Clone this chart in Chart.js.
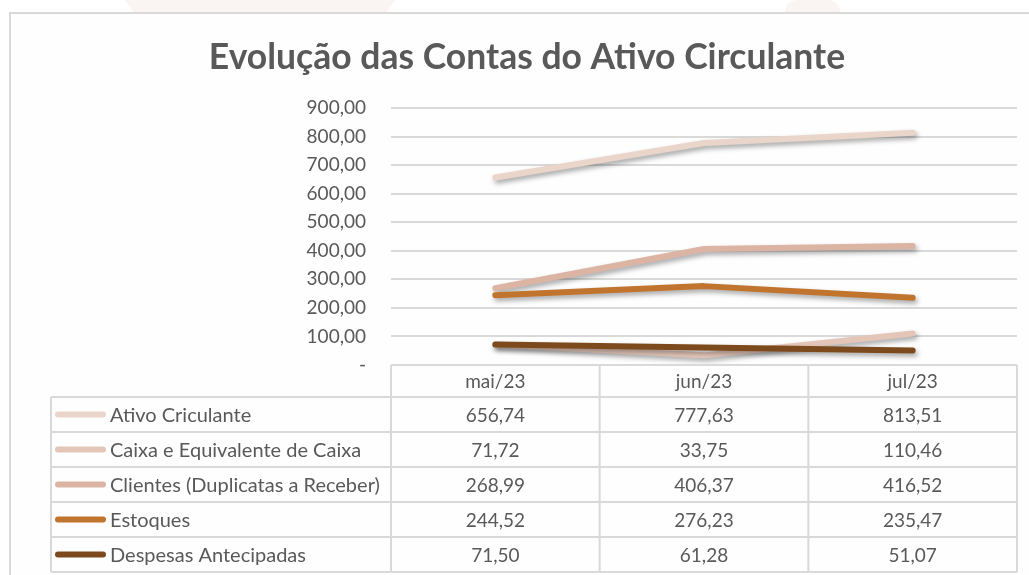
<!DOCTYPE html>
<html>
<head>
<meta charset="utf-8">
<script src="https://cdn.jsdelivr.net/npm/chart.js@4.4.1/dist/chart.umd.min.js"></script>
<style>
  html, body { margin: 0; padding: 0; background: #fff; }
  #wrap { position: relative; width: 1029px; height: 575px; overflow: hidden; }
  .mark { position: absolute; background: #faf5f2; }
  #frame { position: absolute; left: 9px; top: 12px; width: 1040px; height: 700px;
    border: 2px solid #d9d9d9; background: #fefefe; box-sizing: border-box; }
  canvas { position: absolute; left: 0; top: 0; }
</style>
</head>
<body>
<div id="wrap">
  <div class="mark" style="left:125px;top:0;width:270px;height:12px;clip-path:polygon(0 0,100% 0,97% 100%,3% 100%);"></div>
  <div class="mark" style="left:785px;top:0;width:55px;height:12px;border-radius:30px 30px 0 0;"></div>
  <div id="frame"></div>
  <canvas id="chart" width="1029" height="575"></canvas>
</div>
<script>
(function () {
  const title = "Evolução das Contas do Ativo Circulante";
  const months = ["mai/23", "jun/23", "jul/23"];
  const seriesNames = [
    "Ativo Criculante",
    "Caixa e Equivalente de Caixa",
    "Clientes (Duplicatas a Receber)",
    "Estoques",
    "Despesas Antecipadas",
  ];
  const ativo = [656.74, 777.63, 813.51];
  const caixa = [71.72, 33.75, 110.46];
  const clientes = [268.99, 406.37, 416.52];
  const estoques = [244.52, 276.23, 235.47];
  const despesas = [71.5, 61.28, 51.07];
  const colors = ["#e9d5ca", "#e4c6b9", "#dcb4a4", "#c0742e", "#7d4a1d"];

  const values = [ativo, caixa, clientes, estoques, despesas];
  const fmt = (v) => v.toFixed(2).replace(".", ",");
  const textColor = "#595959";
  const gridColor = "#d9d9d9";
  const font = "Lato";

  const shadow = {
    id: "shadow",
    beforeDatasetsDraw(chart) {
      const ctx = chart.ctx;
      ctx.save();
      ctx.shadowColor = "rgba(0,0,0,0.35)";
      ctx.shadowBlur = 5;
      ctx.shadowOffsetX = 2;
      ctx.shadowOffsetY = 3;
    },
    afterDatasetsDraw(chart) {
      chart.ctx.restore();
    },
  };

  // title centred on the frame, not on the canvas
  const frameTitle = {
    id: "frameTitle",
    afterDraw(chart) {
      const ctx = chart.ctx;
      ctx.save();
      ctx.fillStyle = textColor;
      ctx.font = "bold 35.5px " + font;
      ctx.textAlign = "center";
      ctx.textBaseline = "middle";
      ctx.fillText(title, 527, 58);
      ctx.restore();
    },
  };

  // data table under the plot, aligned to the category scale
  const dataTable = {
    id: "dataTable",
    afterDraw(chart) {
      const ctx = chart.ctx;
      const ca = chart.chartArea;
      const xs = chart.scales.x;
      const colW = (ca.right - ca.left) / months.length;
      const headTop = ca.bottom;
      const headH = 32;
      const rowH = 35;
      const leftX = 51;
      const bodyTop = headTop + headH;
      const bottom = bodyTop + rowH * seriesNames.length;

      ctx.save();
      ctx.strokeStyle = gridColor;
      ctx.lineWidth = 2;
      ctx.beginPath();
      ctx.moveTo(ca.left, headTop);
      ctx.lineTo(ca.right, headTop);
      for (let i = 0; i <= months.length; i++) {
        const x = ca.left + colW * i;
        ctx.moveTo(x, headTop);
        ctx.lineTo(x, bottom);
      }
      for (let r = 0; r <= seriesNames.length; r++) {
        const y = bodyTop + rowH * r;
        ctx.moveTo(leftX, y);
        ctx.lineTo(ca.right, y);
      }
      ctx.moveTo(leftX, bodyTop);
      ctx.lineTo(leftX, bottom);
      ctx.stroke();

      ctx.fillStyle = textColor;
      ctx.font = "19px " + font;
      ctx.textBaseline = "middle";
      ctx.textAlign = "center";
      months.forEach((m, i) => {
        ctx.fillText(m, xs.getPixelForValue(i), headTop + headH / 2 + 1);
      });

      seriesNames.forEach((name, r) => {
        const cy = bodyTop + rowH * r + rowH / 2;
        ctx.strokeStyle = colors[r];
        ctx.lineWidth = 6;
        ctx.lineCap = "round";
        ctx.beginPath();
        ctx.moveTo(58, cy);
        ctx.lineTo(103, cy);
        ctx.stroke();

        ctx.fillStyle = textColor;
        ctx.textAlign = "left";
        ctx.font = "20px " + font;
        ctx.fillText(name, 110, cy + 1);
        ctx.textAlign = "center";
        ctx.font = "19px " + font;
        values[r].forEach((v, i) => {
          ctx.fillText(fmt(v), xs.getPixelForValue(i), cy + 1);
        });
      });
      ctx.restore();
    },
  };

  new Chart(document.getElementById("chart"), {
    type: "line",
    data: {
      labels: months,
      datasets: seriesNames.map((name, i) => ({
        label: name,
        data: values[i],
        borderColor: colors[i],
        backgroundColor: colors[i],
        borderWidth: 6,
        borderCapStyle: "round",
        borderJoinStyle: "round",
        pointRadius: 0,
        tension: 0,
        order: seriesNames.length - i,
      })),
    },
    options: {
      responsive: false,
      animation: false,
      layout: { padding: { left: 0, right: 12, top: 108, bottom: 210 } },
      plugins: {
        legend: { display: false },
        tooltip: { enabled: false },
        title: { display: false },
      },
      scales: {
        x: { display: false, offset: true },
        y: {
          min: 0,
          max: 900,
          afterFit(scale) { scale.width = 391; },
          border: { display: false },
          grid: { color: gridColor, lineWidth: 2, drawTicks: false },
          ticks: {
            stepSize: 100,
            padding: 25,
            color: textColor,
            font: { family: font, size: 19 },
            callback: (v) => (v === 0 ? "-" : fmt(v)),
          },
        },
      },
    },
    plugins: [shadow, frameTitle, dataTable],
  });
})();
</script>
</body>
</html>
